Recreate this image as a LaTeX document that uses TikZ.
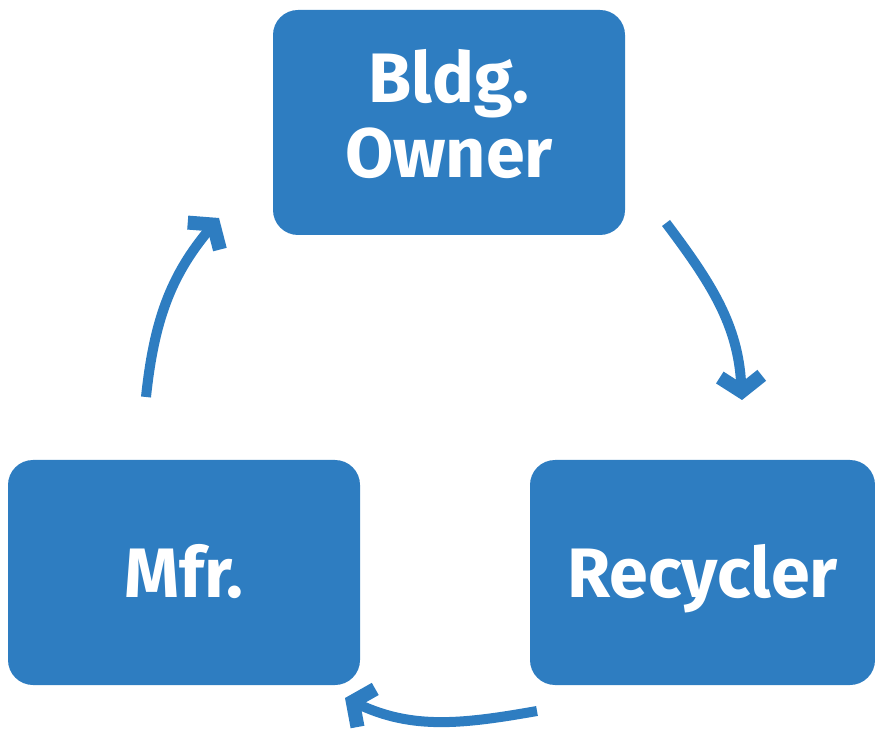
\documentclass[tikz,border=0pt]{standalone}
\usepackage{fontspec}
\setmainfont{Fira Sans}
\usetikzlibrary{arrows.meta}

\definecolor{cycleblue}{RGB}{46,125,193}

\begin{document}
\begin{tikzpicture}[x=1pt, y=1pt,
    box/.style={fill=cycleblue, rounded corners=25pt, minimum height=225pt,
        text=white, font=\fontsize{70}{75}\selectfont\bfseries, align=center, inner sep=0pt,
        text height=55pt, text depth=6pt},
    flow/.style={draw=cycleblue, line width=10pt,
        -{Straight Barb[length=15pt, width=42pt, line width=14pt, line join=miter]}}]
        \useasboundingbox (0,0) rectangle (875,734);

        \node[box, minimum width=352pt, text height=115pt, text depth=4pt] (owner) at (449,611.5) {Bldg.\\Owner};
        \node[box, minimum width=352pt] (mfr) at (184,161.5) {Mfr.};
        \node[box, minimum width=345pt] (recycler) at (702.5,161.5) {Recycler};

        \coordinate (a1) at (666,511);
        \coordinate (b1) at (742,334);
        \coordinate (a2) at (537,23);
        \coordinate (b2) at (345,36);
        \coordinate (a3) at (146,337);
        \coordinate (b3) at (219,516);

        \draw[flow] (a1) to[out=-53, in=93] (b1);
        \draw[flow] (a2) to[out=190, in=-25] (b2);
        \draw[flow] (a3) to[out=84, in=-130] (b3);
    \end{tikzpicture}
\end{document}
